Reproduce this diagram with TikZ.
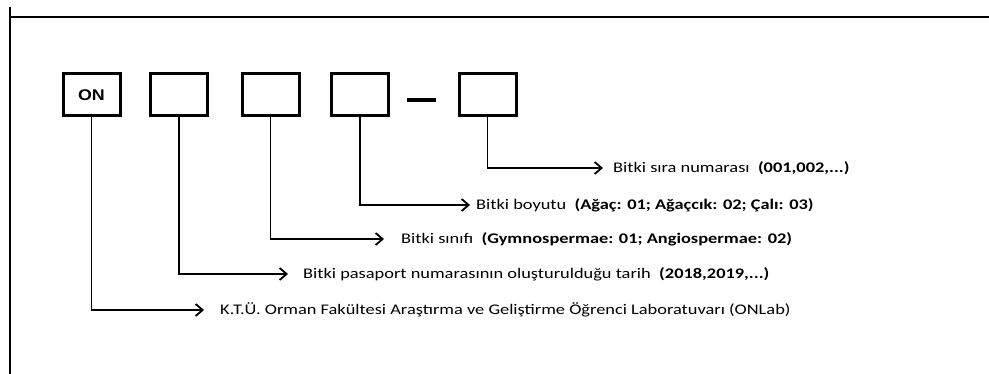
\documentclass[tikz,border=0pt]{standalone}
\usepackage{fontspec}
\setmainfont{Carlito}[FakeStretch=1.25]
\newfontfamily\codefont{Liberation Sans}[FakeStretch=1.15]
\usetikzlibrary{arrows.meta}
\begin{document}
\begin{tikzpicture}[x=1pt,y=-1pt,
  codebox/.style={draw,line width=3pt,minimum width=57pt,minimum height=42pt,inner sep=0pt},
  link/.style={line width=1.8pt,-{Straight Barb[length=7pt,width=12pt,line width=1.8pt]}},
  lbl/.style={anchor=west,inner sep=0pt,font=\fontsize{14.7}{16}\selectfont},
  frame/.style={line width=2.8pt}]
\useasboundingbox (0,0) rectangle (989,374);
% frame lines
\coordinate (fl) at (10,7);
\coordinate (fb) at (10,374);
\coordinate (ftl) at (10,17);
\coordinate (ftr) at (989,17);
\draw[frame] (fl) -- (fb);
\draw[frame] (ftl) -- (ftr);
% code boxes
\node[codebox,font=\codefont\bfseries\fontsize{15.5}{17}\selectfont] (b1) at (91.5,95) {ON};
\node[codebox] (b2) at (179,95) {};
\node[codebox] (b3) at (270.5,95) {};
\node[codebox] (b4) at (360,95) {};
\node[codebox] (b5) at (487.5,95) {};
\coordinate (d1) at (407,100);
\coordinate (d2) at (436,100);
\draw[line width=3.5pt] (d1) -- (d2);
% labels
\node[lbl] (t5) at (613,168) {Bitki sıra numarası\ \ \textbf{(001,002,...)}};
\node[lbl] (t4) at (476,205) {Bitki boyutu\ \ \textbf{(Ağaç: 01; Ağaçcık: 02; Çalı: 03)}};
\node[lbl] (t3) at (401,239) {Bitki sınıfı\ \ \textbf{(Gymnospermae: 01; Angiospermae: 02)}};
\node[lbl] (t2) at (303,274) {Bitki pasaport numarasının oluşturulduğu tarih\ \ \textbf{(2018,2019,...)}};
\node[lbl] (t1) at (220,310) {K.T.Ü. Orman Fakültesi Araştırma ve Geliştirme Öğrenci Laboratuvarı (ONLab)};
% connectors
\draw[link] (b5.south) |- ([xshift=-10pt]t5.west);
\draw[link] (b4.south) |- ([xshift=-6pt]t4.west);
\draw[link] (b3.south) |- ([xshift=-17pt]t3.west);
\draw[link] (b2.south) |- ([xshift=-15pt]t2.west);
\draw[link] (b1.south) |- ([xshift=-16pt]t1.west);
\end{tikzpicture}
\end{document}
